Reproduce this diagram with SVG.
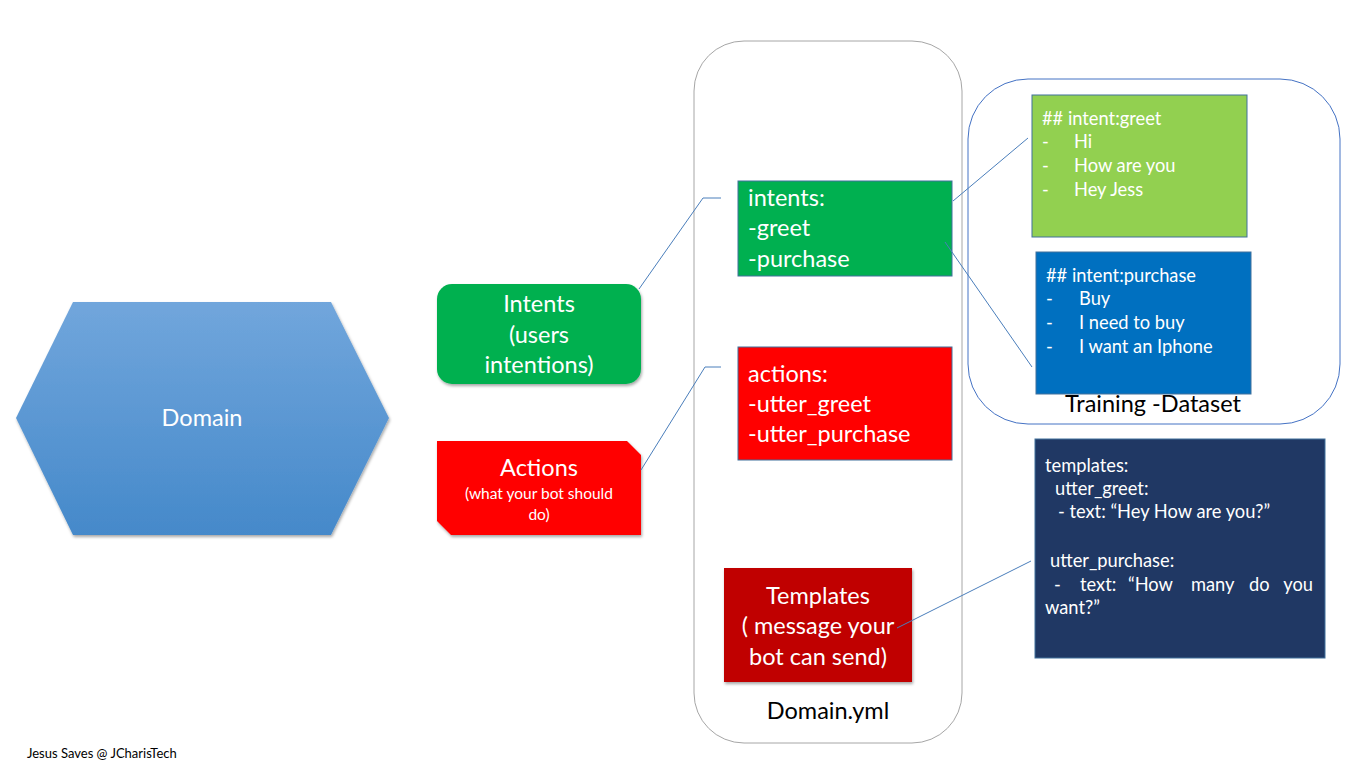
<svg xmlns="http://www.w3.org/2000/svg" width="1366" height="768" viewBox="0 0 1366 768">
<defs>
<linearGradient id="hexg" x1="0" y1="0" x2="0" y2="1">
<stop offset="0" stop-color="#71a6dc"/>
<stop offset="1" stop-color="#4589ca"/>
</linearGradient>
<filter id="sh" x="-10%" y="-10%" width="130%" height="130%">
<feDropShadow dx="1" dy="2" stdDeviation="1.5" flood-color="#000" flood-opacity="0.35"/>
</filter>
</defs>
<style>
text{font-family:Lato,"Liberation Sans",sans-serif}
.w{fill:#fff}
.k{fill:#000}
.c{text-anchor:middle}
.e{text-anchor:end}
.conn{fill:none;stroke:#4a7ebb;stroke-width:1}
</style>
<rect width="1366" height="768" fill="#fff"/>

<g id="domain">
<polygon points="73,302 331,302 389,418 331,535 73,535 16,418" fill="url(#hexg)" filter="url(#sh)"/>
<text x="202" y="426" class="w c" font-size="23.5">Domain</text>
</g>

<g id="intents">
<rect x="437" y="284" width="204" height="100" rx="15" fill="#00b050" filter="url(#sh)"/>
<text class="w c" font-size="23.5"><tspan x="539" y="312">Intents</tspan><tspan x="539" y="343">(users</tspan><tspan x="539" y="373">intentions)</tspan></text>
</g>

<g id="actions">
<polygon points="437,441 627,441 641,455 641,535 451,535 437,521" fill="#ff0000" filter="url(#sh)"/>
<text x="539" y="476" class="w c" font-size="23.5">Actions</text>
<text class="w c" font-size="15.5"><tspan x="539" y="499">(what your bot should</tspan><tspan x="539" y="520">do)</tspan></text>
</g>

<g id="domainyml">
<rect x="694" y="41" width="268" height="702" rx="50" fill="none" stroke="#a6a6a6" stroke-width="1"/>
<text x="828" y="719" class="k c" font-size="23.5">Domain.yml</text>
</g>

<g id="intents-list">
<rect x="738" y="181" width="214" height="95" fill="#00b050" stroke="#41719c" stroke-width="1"/>
<text class="w" font-size="23.5"><tspan x="748" y="206">intents:</tspan><tspan x="748" y="236">-greet</tspan><tspan x="748" y="267">-purchase</tspan></text>
</g>

<g id="actions-list">
<rect x="738" y="347" width="214" height="113" fill="#ff0000" stroke="#41719c" stroke-width="1"/>
<text class="w" font-size="23.5"><tspan x="748" y="382">actions:</tspan><tspan x="748" y="412">-utter_greet</tspan><tspan x="748" y="442">-utter_purchase</tspan></text>
</g>

<g id="templates">
<rect x="724" y="568" width="188" height="114" fill="#c00000" filter="url(#sh)"/>
<text class="w c" font-size="23.5"><tspan x="818" y="604">Templates</tspan><tspan x="818" y="634">( message your</tspan><tspan x="818" y="665">bot can send)</tspan></text>
</g>

<g id="training">
<rect x="968" y="79" width="372" height="345" rx="60" fill="none" stroke="#4472c4" stroke-width="1"/>
<text x="1153" y="412" class="k c" font-size="23.5">Training -Dataset</text>
</g>

<g id="greet-data">
<rect x="1032" y="95" width="215" height="142" fill="#92d050" stroke="#41719c" stroke-width="1"/>
<text class="w" font-size="18.3">
<tspan x="1042" y="125">## intent:greet</tspan>
<tspan x="1042" y="148">-</tspan><tspan x="1074" y="148">Hi</tspan>
<tspan x="1042" y="172">-</tspan><tspan x="1074" y="172">How are you</tspan>
<tspan x="1042" y="196">-</tspan><tspan x="1074" y="196">Hey Jess</tspan>
</text>
</g>

<g id="purchase-data">
<rect x="1036" y="252" width="215" height="142" fill="#0070c0" stroke="#41719c" stroke-width="1"/>
<text class="w" font-size="18.3">
<tspan x="1046" y="282">## intent:purchase</tspan>
<tspan x="1046" y="305">-</tspan><tspan x="1079" y="305">Buy</tspan>
<tspan x="1046" y="329">-</tspan><tspan x="1079" y="329">I need to buy</tspan>
<tspan x="1046" y="353">-</tspan><tspan x="1079" y="353">I want an Iphone</tspan>
</text>
</g>

<g id="templates-data">
<rect x="1035" y="439" width="290" height="219" fill="#203864" stroke="#41719c" stroke-width="1"/>
<text class="w" font-size="18.3">
<tspan x="1045" y="472">templates:</tspan>
<tspan x="1055" y="495">utter_greet:</tspan>
<tspan x="1058" y="518">- text: “Hey How are you?”</tspan>
<tspan x="1050" y="567">utter_purchase:</tspan>
<tspan x="1054" y="591">-</tspan><tspan x="1080" y="591">text:</tspan><tspan x="1128" y="591">“How</tspan><tspan x="1191" y="591">many</tspan><tspan x="1249" y="591">do</tspan>
<tspan x="1045" y="614">want?”</tspan>
</text>
<text x="1313" y="591" class="w e" font-size="18.3">you</text>
</g>

<g id="connectors">
<polyline class="conn" points="639,289 703,198 721,198"/>
<polyline class="conn" points="641,470 705,367 721,367"/>
<line class="conn" x1="953" y1="201" x2="1028" y2="138"/>
<line class="conn" x1="945" y1="242" x2="1032" y2="367"/>
<line class="conn" x1="897" y1="628" x2="1031" y2="561"/>
</g>

<text x="27" y="758" class="k" font-size="13">Jesus Saves @ JCharisTech</text>
</svg>
